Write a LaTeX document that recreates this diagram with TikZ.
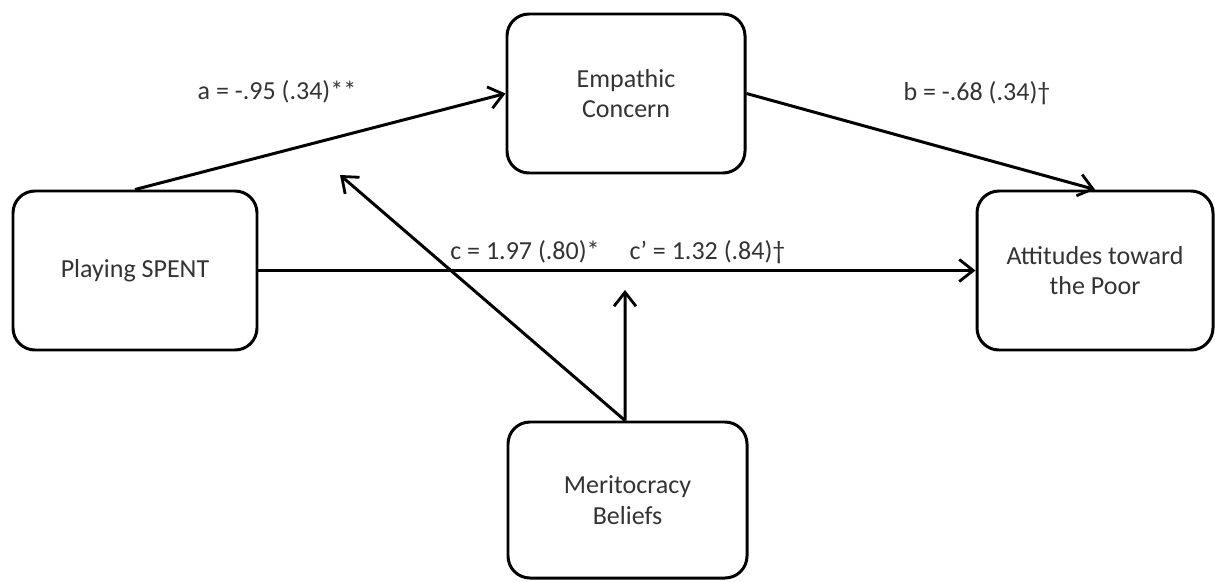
\documentclass[tikz,border=0pt]{standalone}
\usepackage{fontspec}
\setmainfont{Carlito}
\usetikzlibrary{arrows.meta, positioning}
\definecolor{txtgray}{HTML}{333333}

\begin{document}
\begin{tikzpicture}[
        var/.style={rectangle, draw=black, line width=1.7pt, rounded corners=0.44cm, minimum width=4.76cm, minimum height=3.18cm, align=center, font=\fontsize{14.8}{17.5}\selectfont, text=txtgray},
        effect/.style={-{Straight Barb[length=0.28cm, width=0.44cm, line width=1.6pt]}, line width=1.7pt, draw=black},
        coef/.style={font=\fontsize{14.8}{17.5}\selectfont, text=txtgray, inner sep=2pt}
    ]
        \useasboundingbox (0, 0) rectangle (24.3, 11.62);
        \node[var, minimum width=4.88cm] (spent) at (2.70, 6.21) {Playing SPENT};
        \node[var] (empathy) at (12.52, 9.75) {Empathic\\Concern};
        \node[var, minimum width=4.72cm] (attitude) at (21.90, 6.21) {Attitudes toward\\the Poor};
        \node[var, minimum width=4.78cm, minimum height=3.12cm] (merit) at (12.55, 1.62) {Meritocracy\\Beliefs};
        \coordinate (moda) at (6.80, 8.12);
        \coordinate (modc) at (12.50, 5.82);
        \draw[effect] (spent.north) -- (empathy.west);
        \draw[effect] (empathy.east) -- (attitude.north);
        \draw[effect] (spent.east) -- (attitude.west);
        \draw[effect] ([xshift=-0.05cm]merit.north) -- (moda);
        \draw[effect] ([xshift=-0.05cm]merit.north) -- (modc);
        \node[coef] (alabel) at (5.54, 9.78) {a = -.95 (.34)**};
        \node[coef] (blabel) at (19.54, 9.76) {b = -.68 (.34)\textdagger};
        \node[coef] (clabel) at (10.50, 6.58) {c = 1.97 (.80)*};
        \node[coef] (cplabel) at (14.15, 6.58) {c’ = 1.32 (.84)\textdagger};
    \end{tikzpicture}
\end{document}
